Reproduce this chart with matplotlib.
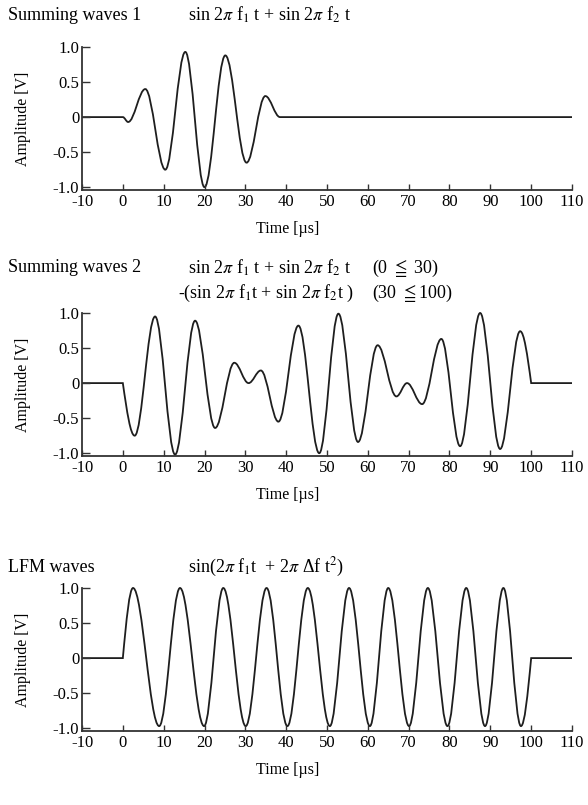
import matplotlib
matplotlib.use("Agg")
import matplotlib.pyplot as plt
from matplotlib.path import Path
from matplotlib.patches import PathPatch

# extrema (knots) of each waveform, time in us, amplitude in V

t_sum1 = [0, 1.3, 5.5, 10.4, 15.3, 20.0, 25.1, 30.3, 34.9, 38.5]
v_sum1 = [0, -0.07, 0.40, -0.75, 0.93, -1.0, 0.88, -0.65, 0.30, 0]

t_sum2 = [0, 2.9, 7.9, 12.8, 17.7, 22.6, 27.3, 30.8, 33.8, 38.1, 43.0, 48.1,
          52.8, 57.6, 62.4, 67.0, 69.6, 73.3, 78.0, 82.6, 87.5, 92.4, 97.3, 100]
v_sum2 = [0, -0.75, 0.95, -1.02, 0.89, -0.64, 0.29, 0.0, 0.18, -0.55, 0.82, -1.0,
          0.99, -0.84, 0.54, -0.19, 0.0, -0.30, 0.63, -0.90, 1.0, -0.94, 0.74, 0]

t_lfm = [0, 2.5, 8.9, 14.0, 19.9, 24.6, 30.1, 35.2, 40.3, 45.3, 50.7,
         55.4, 60.5, 65.0, 70.1, 74.7, 79.5, 84.1, 88.7, 93.2, 97.5, 100]
v_lfm = [0, 1.0, -0.97, 1.0, -0.97, 1.0, -0.97, 1.0, -0.97, 1.0, -0.97,
         1.0, -0.97, 1.0, -0.97, 1.0, -0.97, 1.0, -0.97, 1.0, -0.97, 0]

x_ticks = [-10, 0, 10, 20, 30, 40, 50, 60, 70, 80, 90, 100, 110]
y_ticks = [1.0, 0.5, 0, -0.5, -1.0]
y_ticklabels = ["1.0", "0.5", "0", "-0.5", "-1.0"]

# ----------------(style)----------------()
plt.rcParams['font.family'] = ['Liberation Serif', 'DejaVu Serif']
plt.rcParams['mathtext.fontset'] = 'stix'
plt.rcParams['axes.unicode_minus'] = False
line_col = '#1e1e1e'
W, H = 588, 805


def wave_path(ts, vs, kink_start, kink_end, t0=-10, t1=110):
    # smooth curve through the extrema, flat before and after
    verts = [(t0, 0), (ts[0], vs[0])]
    codes = [Path.MOVETO, Path.LINETO]
    n = len(ts) - 1
    for i in range(n):
        xa, ya, xb, yb = ts[i], vs[i], ts[i + 1], vs[i + 1]
        dx, dy = xb - xa, yb - ya
        if i == 0 and kink_start:
            c1 = (xa + 0.35 * dx, ya + 0.55 * dy)
            c2 = (xb - 0.35 * dx, yb)
        elif i == n - 1 and kink_end:
            c1 = (xa + 0.35 * dx, ya)
            c2 = (xb - 0.35 * dx, yb - 0.55 * dy)
        else:
            c1 = (xa + 0.363 * dx, ya)
            c2 = (xb - 0.363 * dx, yb)
        verts += [c1, c2, (xb, yb)]
        codes += [Path.CURVE4] * 3
    verts.append((t1, 0))
    codes.append(Path.LINETO)
    return Path(verts, codes)


fig = plt.figure(figsize=(W / 100, H / 100), dpi=100)

panels = [
    (47, t_sum1, v_sum1, False, False),
    (313, t_sum2, v_sum2, True, True),
    (588, t_lfm, v_lfm, True, True),
]

ax_h = 143 / H
for top, ts, vs, ks, ke in panels:
    ax = fig.add_axes([82 / W, 1 - top / H - ax_h, 490 / W, ax_h])
    ax.add_patch(PathPatch(wave_path(ts, vs, ks, ke), fill=False,
                           edgecolor=line_col, lw=1.3, clip_on=False))
    ax.set_xlim(-10, 110)
    ax.set_ylim(-1.04, 1.0)
    ax.set_xticks(x_ticks)
    ax.set_yticks(y_ticks)
    ax.set_yticklabels(y_ticklabels)
    for s in ['top', 'right']:
        ax.spines[s].set_visible(False)
    for s in ['left', 'bottom']:
        ax.spines[s].set_linewidth(1.3)
        ax.spines[s].set_color('#333333')
    ax.tick_params(axis='x', direction='in', length=4, width=1.0,
                   labelsize=12, pad=3, color='#333333')
    ax.tick_params(axis='y', direction='in', length=6, width=1.0,
                   labelsize=12, pad=2, color='#333333')
    ax.set_xlabel('Time [µs]', fontsize=11.5)
    ax.xaxis.set_label_coords(0.42, -0.22)
    ax.set_ylabel('Amplitude [V]', fontsize=11.5)
    ax.yaxis.set_label_coords(-0.105, 0.5)


def ftext(x, y, s, size=13):
    fig.text(x / W, 1 - y / H, s, fontsize=size, va='center', ha='left')


ftext(8, 15, 'Summing waves 1')
ftext(188, 15, r'sin 2$\pi$ f$_1$ t + sin 2$\pi$ f$_2$ t')

ftext(8, 268, 'Summing waves 2')
ftext(188, 268, r'sin 2$\pi$ f$_1$ t + sin 2$\pi$ f$_2$ t')
ftext(372, 268, r'(0 $\leqq$ 30)')
ftext(178, 293, r'-(sin 2$\pi$ f$_1$t + sin 2$\pi$ f$_2$t )')
ftext(372, 293, r'(30 $\leqq$100)')

ftext(8, 567, 'LFM waves')
ftext(188, 567, r'sin(2$\pi$ f$_1$t  + 2$\pi$ Δf t$^2$)')

plt.savefig('out.png', dpi=100)
